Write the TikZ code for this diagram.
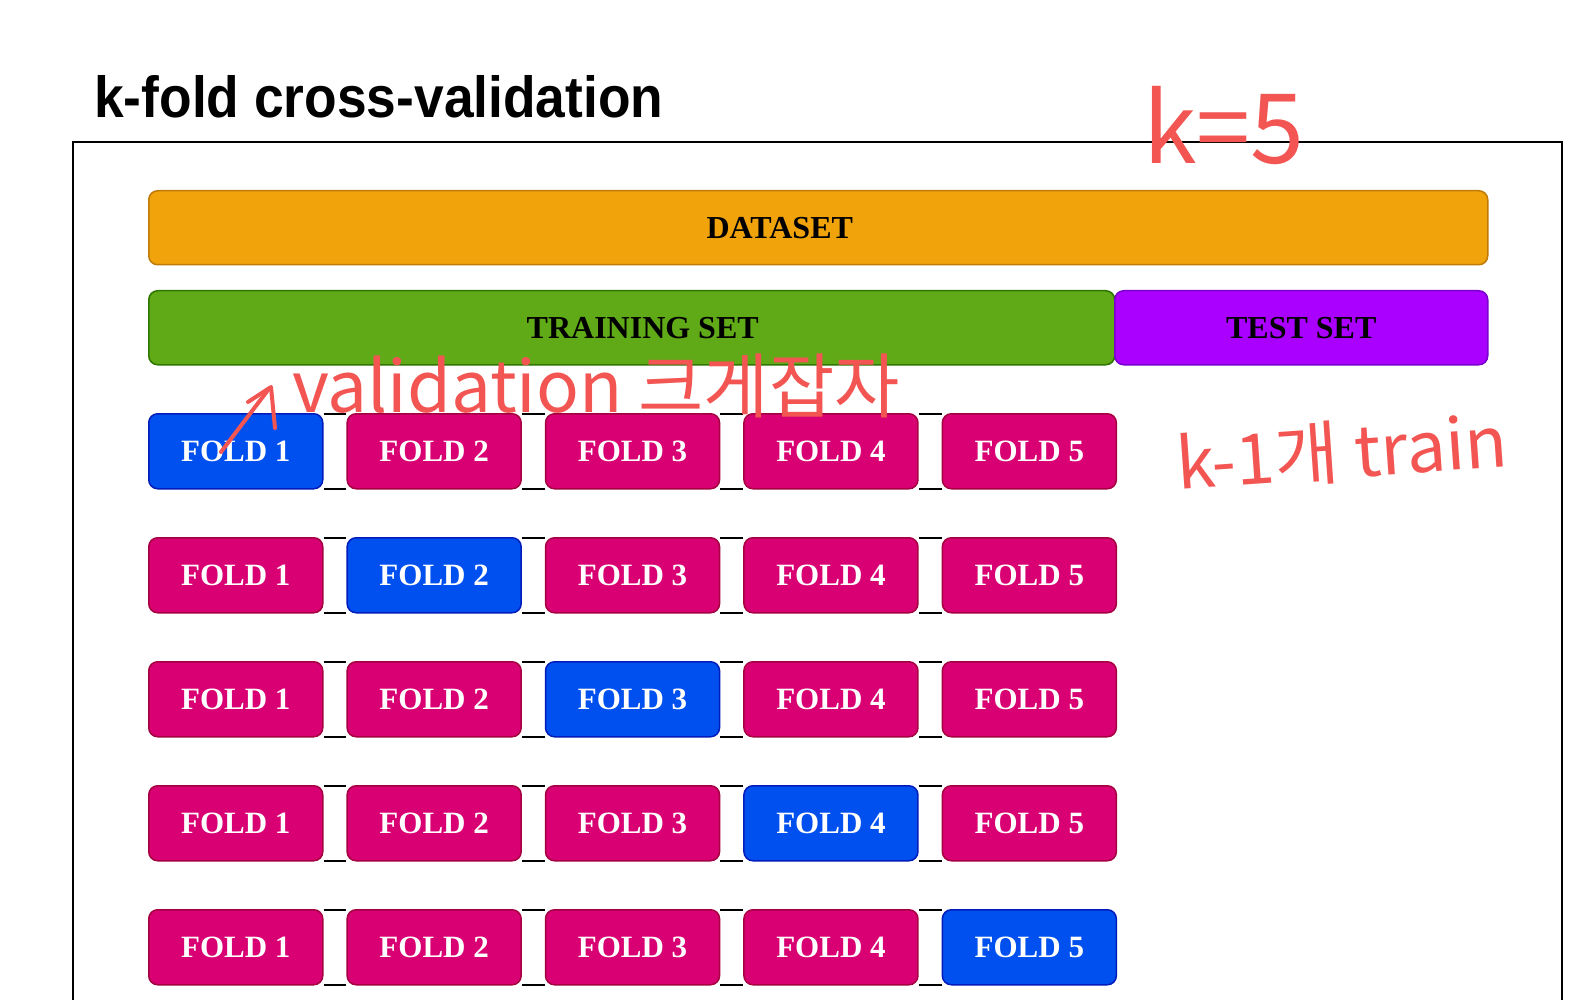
\documentclass[tikz,border=0pt]{standalone}
\usepackage{fontspec}
\setmainfont{Liberation Serif}
\newfontfamily\titlefont{Liberation Sans}[FakeStretch=0.92, BoldFeatures={FakeStretch=0.92}]
\newfontfamily\handfont{Noto Sans CJK KR}
\definecolor{dsfill}{HTML}{F0A30A}
\definecolor{dsdraw}{HTML}{C07A08}
\definecolor{trfill}{HTML}{60A917}
\definecolor{trdraw}{HTML}{2D7600}
\definecolor{tsfill}{HTML}{AA00FF}
\definecolor{tsdraw}{HTML}{7A00CC}
\definecolor{mgfill}{HTML}{D80073}
\definecolor{mgdraw}{HTML}{A50040}
\definecolor{blfill}{HTML}{0050EF}
\definecolor{bldraw}{HTML}{001DBC}
\definecolor{handred}{HTML}{F25552}
\begin{document}
\begin{tikzpicture}[x=1pt,y=-1pt,
  bar/.style={rounded corners=9pt, line width=1.5pt, anchor=north west, inner sep=0pt,
    font=\bfseries\fontsize{32}{36}\selectfont, text=black, minimum height=74pt},
  gapline/.style={draw=black, line width=2pt},
  fold/.style={rounded corners=9pt, line width=1.5pt, anchor=north west, inner sep=0pt,
    minimum width=174pt, minimum height=75pt, text=white,
    font=\bfseries\fontsize{31}{34}\selectfont},
  trainfold/.style={fill=mgfill, draw=mgdraw},
  valfold/.style={fill=blfill, draw=bldraw},
  handtxt/.style={text=handred, inner sep=0pt},
  handline/.style={draw=handred, line width=4pt, line cap=round, line join=round}
]
\useasboundingbox (0,0) rectangle (1588,1000);
\fill[white] (0,0) rectangle (1588,1000);

% frame
\draw[line width=2pt] (73,1002) -- (73,142) -- (1562,142) -- (1562,1002);

% title
\node[anchor=base west, inner sep=0pt, font=\titlefont\bfseries\fontsize{58}{62}\selectfont] (title) at (94,118) {k-fold cross-validation};

% dataset / training / test
\node[bar, fill=dsfill, draw=dsdraw, minimum width=1339pt] (dataset) at (148,190) {\hspace*{-77pt}DATASET};
\node[bar, fill=trfill, draw=trdraw, minimum width=966pt] (training) at (148,290) {\hspace*{22pt}TRAINING SET};
\node[bar, fill=tsfill, draw=tsdraw, minimum width=373pt] (test) at (1114,290) {TEST SET};

% folds
\foreach \r in {1,...,5}{
  \foreach \c in {1,...,5}{
    \ifnum\r=\c \def\fc{valfold}\else\def\fc{trainfold}\fi
    \node[fold,\fc] (f\r\c) at ({148+198.4*(\c-1)},{413+124*(\r-1)}) {FOLD \c};
  }
  \foreach \c [evaluate=\c as \n using int(\c+1)] in {1,...,4}{
    \draw[gapline] ([yshift=-1pt]f\r\c.north east) -- ([yshift=-1pt]f\r\n.north west);
    \draw[gapline] ([yshift=1pt]f\r\c.south east) -- ([yshift=1pt]f\r\n.south west);
  }
}

% handwritten annotations
\node[handtxt, font=\handfont\fontsize{97}{100}\selectfont] (kfive) at (1224,126) {k=5};
\node[handtxt, font=\handfont\fontsize{70}{72}\selectfont, rotate=4] (kminus) at (1342,452) {k-1개 train};
\node[handtxt, font=\handfont\fontsize{71}{74}\selectfont] (valnote) at (596,386) {validation 크게잡자};
\coordinate (arrtail) at (221,452);
\coordinate (arrtip) at (268,390);
\draw[handline] (arrtail) -- (arrtip);
\draw[handline] (248,402) -- (271,387) -- (275,428);
\end{tikzpicture}
\end{document}
